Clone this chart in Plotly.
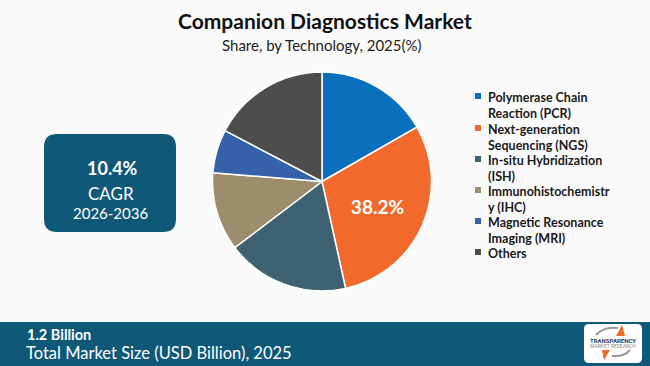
import plotly.graph_objects as go

W, H = 650, 366

# ---------------- data ----------------
categories = [
    "Polymerase Chain Reaction (PCR)",
    "Next-generation Sequencing (NGS)",
    "In-situ Hybridization (ISH)",
    "Immunohistochemistry (IHC)",
    "Magnetic Resonance Imaging (MRI)",
    "Others",
]
legend_labels = [
    "Polymerase Chain<br>Reaction (PCR)",
    "Next-generation<br>Sequencing (NGS)",
    "In-situ Hybridization<br>(ISH)",
    "Immunohistochemistr<br>y (IHC)",
    "Magnetic Resonance<br>Imaging (MRI)",
    "Others",
]
shares = [16.7, 29.8, 18.1, 11.6, 6.4, 17.3]
slice_text = ["", "38.2%", "", "", "", ""]
colors = ["#0A70BE", "#F26A2B", "#3E6272", "#9C8D6C", "#3562AA", "#4D4D4D"]

title_text = "Companion Diagnostics Market"
subtitle_text = "Share, by Technology, 2025(%)"
cagr_value = "10.4%"
cagr_label = "CAGR"
cagr_period = "2026-2036"
market_size = "1.2 Billion"
market_label = "Total Market Size (USD Billion), 2025"

DARK = "#0F5878"
FONT = "Lato"


def X(px):
    return px / W


def Y(py):
    return 1 - py / H


def rounded_rect(x0, y0, x1, y1, r):
    pts = [
        ("M", (x0 + r, y0)),
        ("L", (x1 - r, y0)),
        ("Q", (x1, y0), (x1, y0 + r)),
        ("L", (x1, y1 - r)),
        ("Q", (x1, y1), (x1 - r, y1)),
        ("L", (x0 + r, y1)),
        ("Q", (x0, y1), (x0, y1 - r)),
        ("L", (x0, y0 + r)),
        ("Q", (x0, y0), (x0 + r, y0)),
    ]
    s = ""
    for cmd, *ps in pts:
        s += cmd + " " + " ".join(f"{X(p[0]):.5f},{Y(p[1]):.5f}" for p in ps) + " "
    return s + "Z"


def label(text, px, py, size, color="white", family=FONT, xanchor="center", yanchor="middle", align="center"):
    return dict(text=text, x=X(px), y=Y(py), xref="paper", yref="paper", showarrow=False,
                xanchor=xanchor, yanchor=yanchor, align=align,
                font=dict(family=family, size=size, color=color))


fig = go.Figure()

# pie: centre (322,181.5), radius ~109.5
cx, cy, r = 322, 181.5, 109.5
fig.add_trace(go.Pie(
    labels=categories,
    values=shares,
    text=slice_text,
    textinfo="text",
    textposition="inside",
    insidetextorientation="horizontal",
    textfont=dict(family=FONT, size=19, color="white", weight="bold"),
    marker=dict(colors=colors, line=dict(color="white", width=1.5)),
    sort=False,
    direction="clockwise",
    rotation=0,
    showlegend=False,
    hoverinfo="label+percent",
    domain=dict(x=[X(cx - r), X(cx + r)], y=[Y(cy + r), Y(cy - r)]),
))

shapes = []
annotations = []

# title / subtitle
annotations.append(label(f"<b>{title_text}</b>", 325, 21, 21, color="#111111"))
annotations.append(label(subtitle_text, 322, 45, 15, color="#222222"))

# custom legend
legend_y = [96, 128, 159, 190, 221, 252]
for lab, col, ly in zip(legend_labels, colors, legend_y):
    shapes.append(dict(type="rect", xref="paper", yref="paper",
                       x0=X(475), x1=X(481), y0=Y(ly - 3), y1=Y(ly + 3),
                       fillcolor=col, line=dict(width=0)))
    annotations.append(label(f"<b>{lab}</b>", 486, ly - 8.5, 12.5, color="#1a1a1a",
                             xanchor="left", yanchor="top", align="left"))

# CAGR box
shapes.append(dict(type="path", xref="paper", yref="paper", path=rounded_rect(44, 134, 176, 232, 13),
                   fillcolor=DARK, line=dict(width=0)))
annotations.append(label(f"<b>{cagr_value}</b>", 112, 168, 18))
annotations.append(label(cagr_label, 111, 193, 17))
annotations.append(label(cagr_period, 111, 213, 15))

# bottom band
shapes.append(dict(type="rect", xref="paper", yref="paper", x0=0, x1=1, y0=0, y1=Y(322),
                   fillcolor=DARK, line=dict(width=0)))
annotations.append(label(f"<b>{market_size}</b>", 25, 334, 14.5, xanchor="left"))
annotations.append(label(market_label, 24, 353, 16.5, xanchor="left"))

# logo
shapes.append(dict(type="path", xref="paper", yref="paper", path=rounded_rect(584, 324, 642, 363, 5),
                   fillcolor="white", line=dict(width=0)))
shapes.append(dict(type="path", xref="paper", yref="paper",
                   path=f"M {X(596)},{Y(335)} Q {X(604)},{Y(326)} {X(618)},{Y(328)}",
                   line=dict(color="#9a9a9a", width=2)))
shapes.append(dict(type="path", xref="paper", yref="paper",
                   path=f"M {X(616)},{Y(336)} L {X(622)},{Y(325)} L {X(625)},{Y(336)} Z",
                   fillcolor="#F26A2B", line=dict(width=0)))
shapes.append(dict(type="path", xref="paper", yref="paper",
                   path=f"M {X(602)},{Y(350)} L {X(610)},{Y(350)} L {X(604)},{Y(360)} Z",
                   fillcolor="#F26A2B", line=dict(width=0)))
shapes.append(dict(type="path", xref="paper", yref="paper",
                   path=f"M {X(612)},{Y(356)} Q {X(624)},{Y(357)} {X(630)},{Y(350)}",
                   line=dict(color="#9a9a9a", width=2)))
annotations.append(label("<b>TRANSPARENCY</b>", 613, 340.5, 6, color="#1d3f66", family="Roboto"))
annotations.append(label("MARKET RESEARCH", 613, 346, 5, color="#8a8a8a", family="Roboto"))

fig.update_layout(
    width=W, height=H,
    margin=dict(l=0, r=0, t=0, b=0),
    paper_bgcolor="#FAFAFA",
    plot_bgcolor="#FAFAFA",
    shapes=shapes,
    annotations=annotations,
    showlegend=False,
)

fig.write_html("out.html")
